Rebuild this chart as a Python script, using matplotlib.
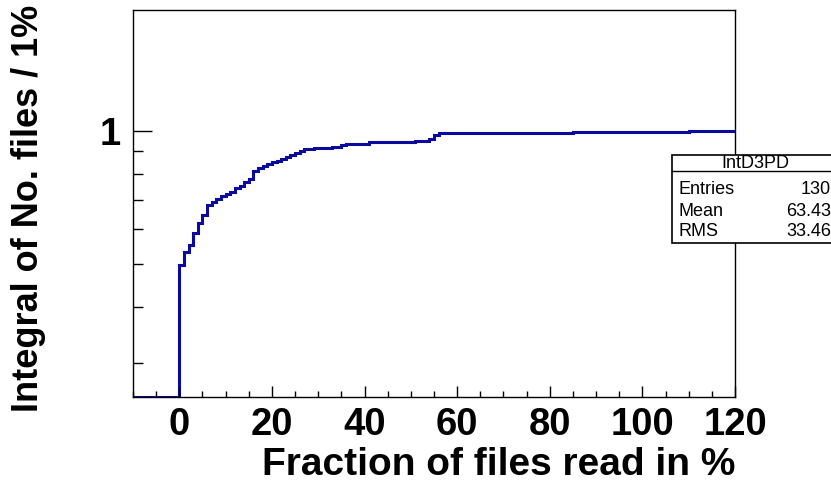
import numpy as np
import matplotlib
matplotlib.use("Agg")
import matplotlib.pyplot as plt
from matplotlib.ticker import FixedLocator, NullFormatter, MultipleLocator

# Histogram: 130 bins of 1% from -10 to 120 (cumulative fraction of files)
bin_lo, bin_hi = -10, 120
neg_bins = [0.0] * 10
pos_bins = (
    [0.498, 0.532, 0.553, 0.588, 0.619, 0.646, 0.681, 0.693, 0.702, 0.712,
     0.722, 0.730, 0.742, 0.751, 0.766, 0.779, 0.814, 0.826, 0.835, 0.842,
     0.850, 0.854, 0.863, 0.875, 0.883, 0.894, 0.901, 0.909, 0.909]
    + [0.914] * 4 + [0.919] * 2 + [0.928] + [0.936] * 5 + [0.943] * 10
    + [0.948] * 3 + [0.958] + [0.979] + [0.988] * 29 + [0.993] * 25 + [1.0] * 10
)
values = np.array(neg_bins + pos_bins)
edges = np.arange(bin_lo, bin_hi + 1, 1)

stats_title = "IntD3PD"
stats_names = ["Entries", "Mean", "RMS"]
stats_vals = ["130", "63.43", "33.46"]

ylo, yhi = 0.251, 1.876
line_col = "#0a0a9e"

fig = plt.figure(figsize=(8.31, 4.83), dpi=100)
ax = fig.add_axes([133 / 831, 1 - 397 / 483, (735 - 133) / 831, (397 - 10) / 483])

ax.stairs(np.clip(values, ylo, None), edges, baseline=None, color=line_col, lw=2.2)

ax.set_xlim(bin_lo, bin_hi)
ax.set_yscale("log")
ax.set_ylim(ylo, yhi)

ax.xaxis.set_major_locator(MultipleLocator(20))
ax.xaxis.set_minor_locator(MultipleLocator(5))
ax.yaxis.set_major_locator(FixedLocator([1.0]))
ax.yaxis.set_major_formatter(plt.FixedFormatter(["1"]))
ax.yaxis.set_minor_locator(FixedLocator([0.3, 0.4, 0.5, 0.6, 0.7, 0.8, 0.9]))
ax.yaxis.set_minor_formatter(NullFormatter())

ax.tick_params(axis="x", which="major", direction="in", length=8, width=1, pad=7)
ax.tick_params(axis="x", which="minor", direction="in", length=4, width=1)
ax.tick_params(axis="y", which="major", direction="in", length=14, width=1, pad=9)
ax.tick_params(axis="y", which="minor", direction="in", length=7, width=1)

for lab in ax.get_xticklabels() + ax.get_yticklabels():
    lab.set_fontsize(27.5)
    lab.set_fontweight("bold")
    lab.set_family("Liberation Sans")

for sp in ax.spines.values():
    sp.set_linewidth(1)

ax.set_xlabel("Fraction of files read in %", fontsize=28, fontweight="bold",
              family="Liberation Sans", loc="right", labelpad=3)
ax.set_ylabel("Integral of No. files / 1%", fontsize=26, fontweight="bold",
              family="Liberation Sans", loc="top")
ax.yaxis.set_label_coords(-0.145, 1.013)

# stats box (ROOT style), partly off the right edge
bx0, bx1 = 672 / 831, 845 / 831
by_top, by_sep, by_bot = 1 - 155 / 483, 1 - 171 / 483, 1 - 243 / 483
fig.patches.append(plt.Rectangle((bx0, by_bot), bx1 - bx0, by_top - by_bot,
                                 transform=fig.transFigure, facecolor="white",
                                 edgecolor="black", lw=1.2, zorder=5))
fig.lines.append(plt.Line2D([bx0, bx1], [by_sep, by_sep], transform=fig.transFigure,
                            color="black", lw=1, zorder=6))
fig.text(755 / 831, 1 - 163 / 483, stats_title, ha="center", va="center",
         fontsize=13, family="Liberation Sans", zorder=7)
row_y = [190, 211, 232]
for name, val, yy in zip(stats_names, stats_vals, row_y):
    fig.text(679 / 831, 1 - yy / 483, name, ha="left", va="center",
             fontsize=13, family="Liberation Sans", zorder=7)
    fig.text(831 / 831, 1 - yy / 483, val, ha="right", va="center",
             fontsize=13, family="Liberation Sans", zorder=7)

fig.savefig("out.png", dpi=100)
